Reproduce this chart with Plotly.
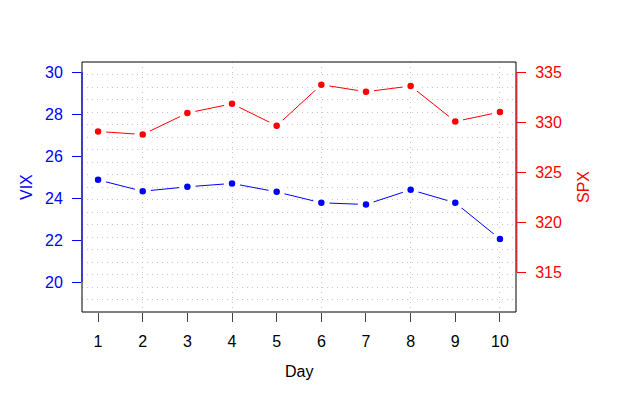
import plotly.graph_objects as go

days = [1, 2, 3, 4, 5, 6, 7, 8, 9, 10]
vix = [24.87, 24.33, 24.54, 24.70, 24.30, 23.78, 23.70, 24.40, 23.78, 22.06]
spx = [329.06, 328.76, 330.90, 331.83, 329.63, 333.73, 333.03, 333.60, 330.06, 331.00]
vix_ticks = [20, 22, 24, 26, 28, 30]
spx_ticks = [315, 320, 325, 330, 335]

BLUE = "#0000FF"
RED = "#FF0000"
FONT = "Liberation Sans"
FS = 16
GRID = "#c8c8c8"

fig = go.Figure()

marker_common = dict(size=11.5, line=dict(color="white", width=5))

fig.add_trace(go.Scatter(
    x=days, y=vix, mode="lines+markers", xaxis="x", yaxis="y",
    line=dict(color=BLUE, width=1), marker=dict(color=BLUE, **marker_common),
    showlegend=False, hoverinfo="skip"))
fig.add_trace(go.Scatter(
    x=days, y=spx, mode="lines+markers", xaxis="x", yaxis="y2",
    line=dict(color=RED, width=1), marker=dict(color=RED, **marker_common),
    showlegend=False, hoverinfo="skip"))

fig.update_layout(
    width=600, height=379,
    margin=dict(l=74, r=92, t=54, b=75, autoexpand=False),
    paper_bgcolor="white", plot_bgcolor="white",
    font=dict(family=FONT, size=FS, color="black"),
    xaxis=dict(range=[0.64, 10.36], tickmode="array", tickvals=days,
               ticktext=[str(d) for d in days], ticks="outside", ticklen=9,
               tickcolor="#444", tickwidth=1, showgrid=False, zeroline=False,
               showline=False, tickfont=dict(size=FS, color="black"),
               ticklabelstandoff=6, automargin=False),
    xaxis2=dict(range=[0.64, 10.36], overlaying="x", side="top", tick0=0, dtick=2,
                showticklabels=False, ticks="", showgrid=True, gridcolor=GRID,
                griddash="1px,4px", gridwidth=1, zeroline=False, showline=False),
    yaxis=dict(range=[18.586, 30.476], tickmode="array", tickvals=vix_ticks,
               ticks="outside", ticklen=9, tickcolor=BLUE, tickwidth=1,
               tickfont=dict(size=FS, color=BLUE), showgrid=False, zeroline=False,
               showline=False, ticklabelstandoff=6, automargin=False),
    yaxis2=dict(range=[311.03, 336.0], overlaying="y", side="right",
                tickmode="array", tickvals=spx_ticks, ticks="outside", ticklen=9,
                tickcolor=RED, tickwidth=1, tickfont=dict(size=FS, color=RED),
                showgrid=False, zeroline=False, showline=False, ticklabelstandoff=6,
                automargin=False),
    yaxis3=dict(range=[0, 20], overlaying="y", dtick=1, tick0=0,
                showticklabels=False, ticks="", showgrid=True, gridcolor=GRID,
                griddash="1px,4px", gridwidth=1, zeroline=False, showline=False),
)

# grid helper trace so yaxis3/xaxis2 are rendered
fig.add_trace(go.Scatter(x=[None], y=[None], xaxis="x2", yaxis="y3",
                         showlegend=False, hoverinfo="skip"))

shapes = [
    dict(type="rect", xref="paper", yref="paper", x0=0, x1=1, y0=0, y1=1,
         line=dict(color="black", width=1), layer="above"),
    dict(type="line", xref="paper", yref="y", x0=0, x1=0,
         y0=vix_ticks[0], y1=vix_ticks[-1], line=dict(color=BLUE, width=1), layer="above"),
    dict(type="line", xref="paper", yref="y2", x0=1.002, x1=1.002,
         y0=spx_ticks[0], y1=spx_ticks[-1], line=dict(color=RED, width=1), layer="above"),
]
fig.update_layout(shapes=shapes)

fig.add_annotation(text="VIX", xref="paper", yref="paper", x=0, y=0.5,
                   xshift=-56, textangle=-90, showarrow=False,
                   font=dict(size=FS, color=BLUE), xanchor="center", yanchor="middle")
fig.add_annotation(text="SPX", xref="paper", yref="paper", x=1, y=0.5,
                   xshift=67, textangle=-90, showarrow=False,
                   font=dict(size=FS, color=RED), xanchor="center", yanchor="middle")
fig.add_annotation(text="Day", xref="paper", yref="paper", x=0.5, y=0,
                   yshift=-59, showarrow=False,
                   font=dict(size=FS, color="black"), xanchor="center", yanchor="middle")

fig.write_html("out.html")
